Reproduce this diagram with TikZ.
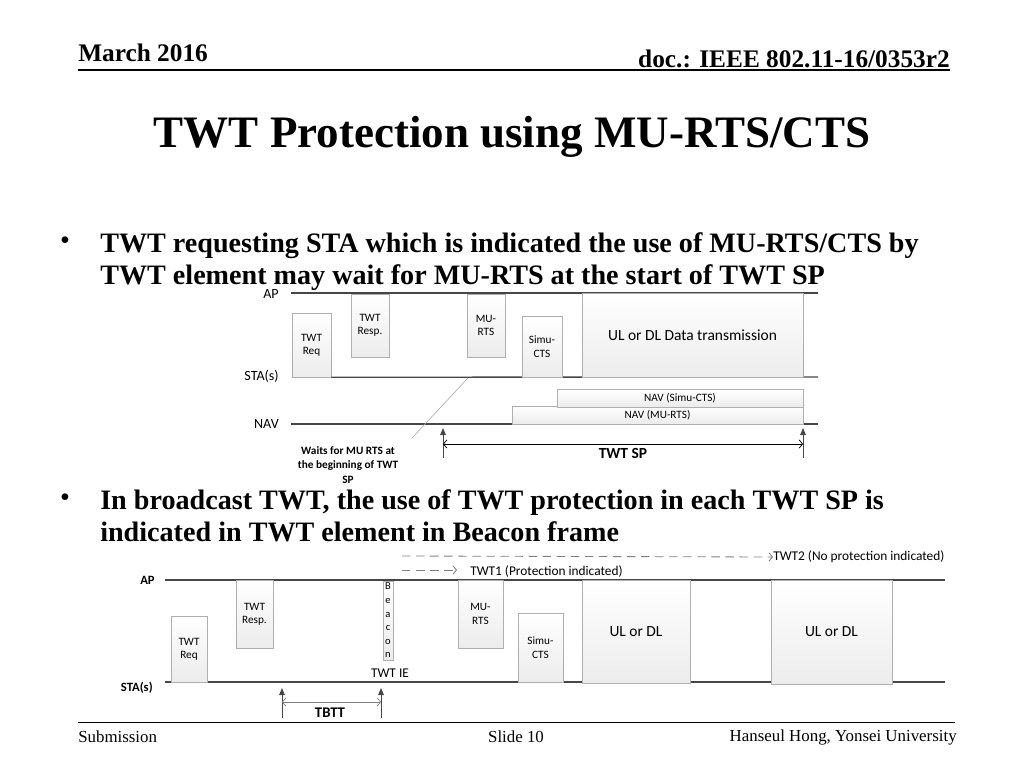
\documentclass[tikz,border=0pt]{standalone}
\usepackage{fontspec}
\setmainfont{Liberation Serif}
\newfontfamily\calib{Carlito}
\definecolor{tl}{RGB}{70,70,70}
\definecolor{bx}{RGB}{175,175,175}
\definecolor{bxfill}{RGB}{236,236,236}
\usetikzlibrary{arrows.meta, positioning}

\begin{document}
\begin{tikzpicture}[x=0.025cm, y=-0.025cm,
    pkt/.style={draw=bx, top color=white, bottom color=bxfill, inner sep=0pt, align=center,
      font=\calib\fontsize{8}{9.5}\selectfont},
    sz/.style 2 args={minimum width=#1*0.025cm, minimum height=#2*0.025cm},
    tline/.style={draw=tl, line width=1pt},
    lbl/.style={font=\calib\fontsize{10}{12}\selectfont, anchor=east, inner sep=0pt},
    uparr/.style={draw=tl, line width=0.6pt, -{Triangle[length=5pt,width=4pt]}},
    dimarr/.style={line width=0.5pt, {Straight Barb[length=2.5pt,width=6pt]}-{Straight Barb[length=2.5pt,width=6pt]}},
    dsh/.style={draw=gray, line width=0.6pt, dash pattern=on 6pt off 4pt, -{Straight Barb[length=2.5pt,width=6pt]}}
  ]
  \useasboundingbox (0,0) rectangle (1024,768);

  % header and footer
  \node[font=\bfseries\fontsize{18}{20}\selectfont, anchor=west, inner sep=0pt] (date) at (78,53) {March 2016};
  \node[font=\bfseries\fontsize{18}{20}\selectfont, anchor=east, inner sep=0pt] (docid) at (950,59) {doc.: IEEE 802.11-16/0353r2};
  \draw[line width=1pt] (78,70) -- (950,70);
  \draw[line width=0.6pt] (78,722) -- (955,722);
  \node[font=\fontsize{12}{14}\selectfont, anchor=west, inner sep=0pt] (subm) at (78,737) {Submission};
  \node[font=\fontsize{12}{14}\selectfont, inner sep=0pt] (slide) at (516,737) {Slide 10};
  \node[font=\fontsize{12}{14}\selectfont, anchor=east, inner sep=0pt] (author) at (957,737) {Hanseul Hong, Yonsei University};

  \node[font=\bfseries\fontsize{32}{36}\selectfont] (title) at (512,137) {TWT Protection using MU-RTS/CTS};

  % bullets
  \node[font=\fontsize{20}{23}\selectfont] (dotA) at (65,243) {\textbullet};
  \node[font=\bfseries\fontsize{20}{23}\selectfont, anchor=north west, inner sep=0pt, align=left] (textA) at (100,232)
    {TWT requesting STA which is indicated the use of MU-RTS/CTS by\\TWT element may wait for MU-RTS at the start of TWT SP};
  \node[font=\fontsize{20}{23}\selectfont] (dotB) at (65,500) {\textbullet};
  \node[font=\bfseries\fontsize{20}{23}\selectfont, anchor=north west, inner sep=0pt, align=left] (textB) at (100,489)
    {In broadcast TWT, the use of TWT protection in each TWT SP is\\indicated in TWT element in Beacon frame};

  % upper diagram
  \coordinate (uapL) at (291,293);
  \coordinate (uapR) at (818,293);
  \coordinate (ustaR) at (818,377);
  \coordinate (unavL) at (291,424);
  \coordinate (unavR) at (818,424);
  \draw[tline] (uapL) -- (uapR);
  \draw[tline] (unavL) -- (unavR);
  \node[lbl] (uap) at (279,294) {AP};
  \node[lbl] (usta) at (279,376) {STA(s)};
  \node[lbl] (unav) at (279,424) {NAV};

  \node[pkt, sz={39}{64}] (ureq) at (311.5,345) {TWT\\Req};
  \draw[tline] (ureq.south east) -- (ustaR);
  \node[pkt, sz={38}{63}] (uresp) at (370,325.5) {TWT\\Resp.};
  \node[pkt, sz={38}{63}] (umrts) at (486,325.5) {MU-\\RTS};
  \node[pkt, sz={40}{61}] (ucts) at (542,346.5) {Simu-\\CTS};
  \node[pkt, sz={221}{84}, font=\calib\fontsize{11}{13}\selectfont] (udata) at (692.5,335) {UL or DL Data transmission};
  \node[pkt, sz={291}{18}] (unavr) at (657.5,415) {NAV (MU-RTS)};
  \node[pkt, sz={246}{18}] (unavc) at (680,398) {NAV (Simu-CTS)};

  \node[font=\calib\bfseries\fontsize{8}{10.5}\selectfont, align=center, inner sep=0pt] (waits) at (348,465)
    {Waits for MU RTS at\\the beginning of TWT\\SP};
  \coordinate (wfoot) at (468,378);
  \coordinate (wtip) at (412,438);
  \draw[gray!70, line width=0.4pt] (wfoot) -- (wtip);

  \coordinate (spA) at (443,458);
  \coordinate (spAt) at (443,428);
  \coordinate (spB) at (803,458);
  \coordinate (spBt) at (803,428);
  \coordinate (spA1) at (443,444);
  \coordinate (spB1) at (803,444);
  \draw[uparr] (spA) -- (spAt);
  \draw[uparr] (spB) -- (spBt);
  \draw[dimarr] (spA1) -- (spB1);
  \node[font=\calib\bfseries\fontsize{11}{13}\selectfont, inner sep=0pt] (twtsp) at (623,453) {TWT SP};

  % lower diagram
  \coordinate (lapL) at (165,580);
  \coordinate (lapR) at (945,580);
  \coordinate (lstaL) at (165,682);
  \coordinate (lstaR) at (945,682);
  \draw[tline] (lapL) -- (lapR);
  \draw[tline] (lstaL) -- (lstaR);
  \node[lbl, font=\calib\bfseries\fontsize{9}{11}\selectfont] (lap) at (155,580) {AP};
  \node[lbl, font=\calib\bfseries\fontsize{9}{11}\selectfont] (lsta) at (153,688) {STA(s)};

  \coordinate (t2s) at (402,556);
  \coordinate (t1s) at (402,570);
  \coordinate (t1e) at (457,570);
  \node[font=\calib\fontsize{9.5}{11}\selectfont, anchor=west, inner sep=0pt] (twt2) at (773,557) {TWT2 (No protection indicated)};
  \node[font=\calib\fontsize{9.5}{11}\selectfont, anchor=west, inner sep=0pt] (twt1) at (470,572) {TWT1 (Protection indicated)};
  \draw[dsh] (t2s) -- (twt2.west);
  \draw[dsh] (t1s) -- (t1e);

  \node[pkt, sz={36}{66}] (lreq) at (189,649) {TWT\\Req};
  \node[pkt, sz={37}{68}] (lresp) at (254.5,614) {TWT\\Resp.};
  \node[pkt, sz={10}{79}, font=\calib\fontsize{7.5}{9.7}\selectfont] (lbeacon) at (388,620.5) {B\\e\\a\\c\\o\\n};
  \node[font=\calib\fontsize{9.5}{11}\selectfont, inner sep=0pt] (twtie) at (390,673) {TWT IE};
  \node[pkt, sz={45}{68}] (lmrts) at (480.5,614) {MU-\\RTS};
  \node[pkt, sz={45}{69}] (lcts) at (540.5,647.5) {Simu-\\CTS};
  \node[pkt, sz={108}{103}, font=\calib\fontsize{11}{13}\selectfont] (lulA) at (636,631.5) {UL or DL};
  \node[pkt, sz={121}{104}, font=\calib\fontsize{11}{13}\selectfont] (lulB) at (831.5,632) {UL or DL};

  \coordinate (tbA) at (282,718);
  \coordinate (tbAt) at (282,688);
  \coordinate (tbB) at (381,718);
  \coordinate (tbBt) at (381,688);
  \coordinate (tbA1) at (282,702);
  \coordinate (tbB1) at (381,702);
  \draw[uparr] (tbA) -- (tbAt);
  \draw[uparr] (tbB) -- (tbBt);
  \draw[dimarr, gray] (tbA1) -- (tbB1);
  \node[font=\calib\bfseries\fontsize{10.5}{12}\selectfont, inner sep=0pt] (tbtt) at (330,713) {TBTT};
\end{tikzpicture}
\end{document}
